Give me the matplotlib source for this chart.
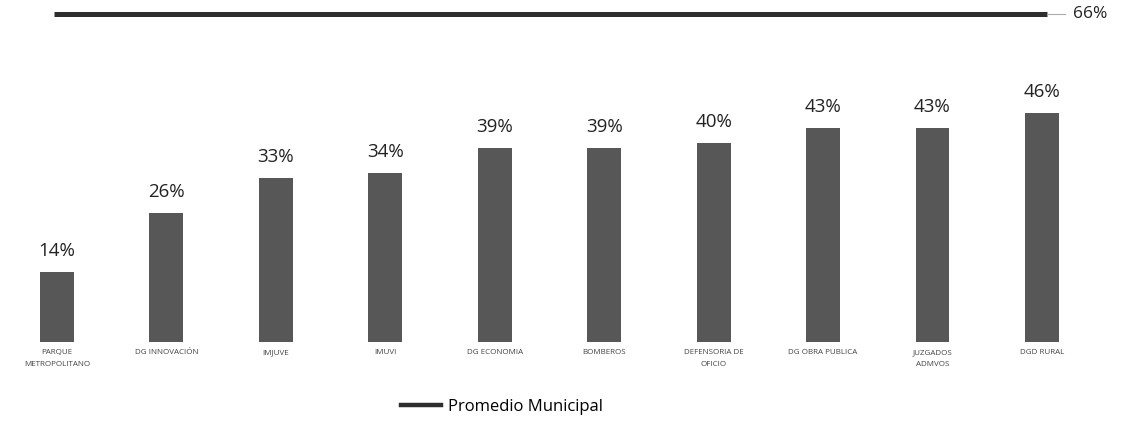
import numpy as np
import matplotlib.pyplot as plt
from matplotlib.lines import Line2D

plt.rcParams['font.family'] = ['Open Sans', 'DejaVu Sans']

categories = ['PARQUE\nMETROPOLITANO', 'DG INNOVACIÓN', 'IMJUVE', 'IMUVI', 'DG ECONOMIA',
              'BOMBEROS', 'DEFENSORIA DE\nOFICIO', 'DG OBRA PUBLICA', 'JUZGADOS\nADMVOS',
              'DGD RURAL']
values = [14, 26, 33, 34, 39, 39, 40, 43, 43, 46]
promedio = 66
promedio_label = 'Promedio Municipal'

bar_color = '#575757'
line_color = '#2e2e2e'

fig = plt.figure(figsize=(11.23, 4.32), dpi=100)
ax = fig.add_axes([0, 90 / 432, 1, 342 / 432])

x = np.arange(len(categories))
bars = ax.bar(x, values, width=0.31, color=bar_color)

for xi, v in zip(x, values):
    ax.text(xi, v + 2.4, f'{v}%', ha='center', va='bottom', fontsize=13.5, color='#222222')

# average line with leader and label at the right end
ax.plot([-0.03, 9.05], [promedio, promedio], color=line_color, lw=3.6, solid_capstyle='butt')
ax.plot([9.05, 9.21], [promedio, promedio], color='#aaaaaa', lw=0.8)
ax.text(9.28, promedio, f'{promedio}%', ha='left', va='center', fontsize=12.5, color='#222222')

ax.set_xlim(-0.521, 9.741)
ax.set_ylim(0, 68.8)
ax.set_xticks(x)
ax.set_xticklabels(categories, fontsize=5.8, color='#444444', linespacing=2.0)
ax.tick_params(axis='x', length=0, pad=5)
ax.set_yticks([])
for s in ax.spines.values():
    s.set_visible(False)

handle = Line2D([], [], color=line_color, lw=3.2)
fig.legend(handles=[handle], labels=[promedio_label], loc='center',
           bbox_to_anchor=(0.447, 0.058), frameon=False, fontsize=12,
           handlelength=2.4, handletextpad=0.4)

fig.savefig('out.png', dpi=100, facecolor='white')
